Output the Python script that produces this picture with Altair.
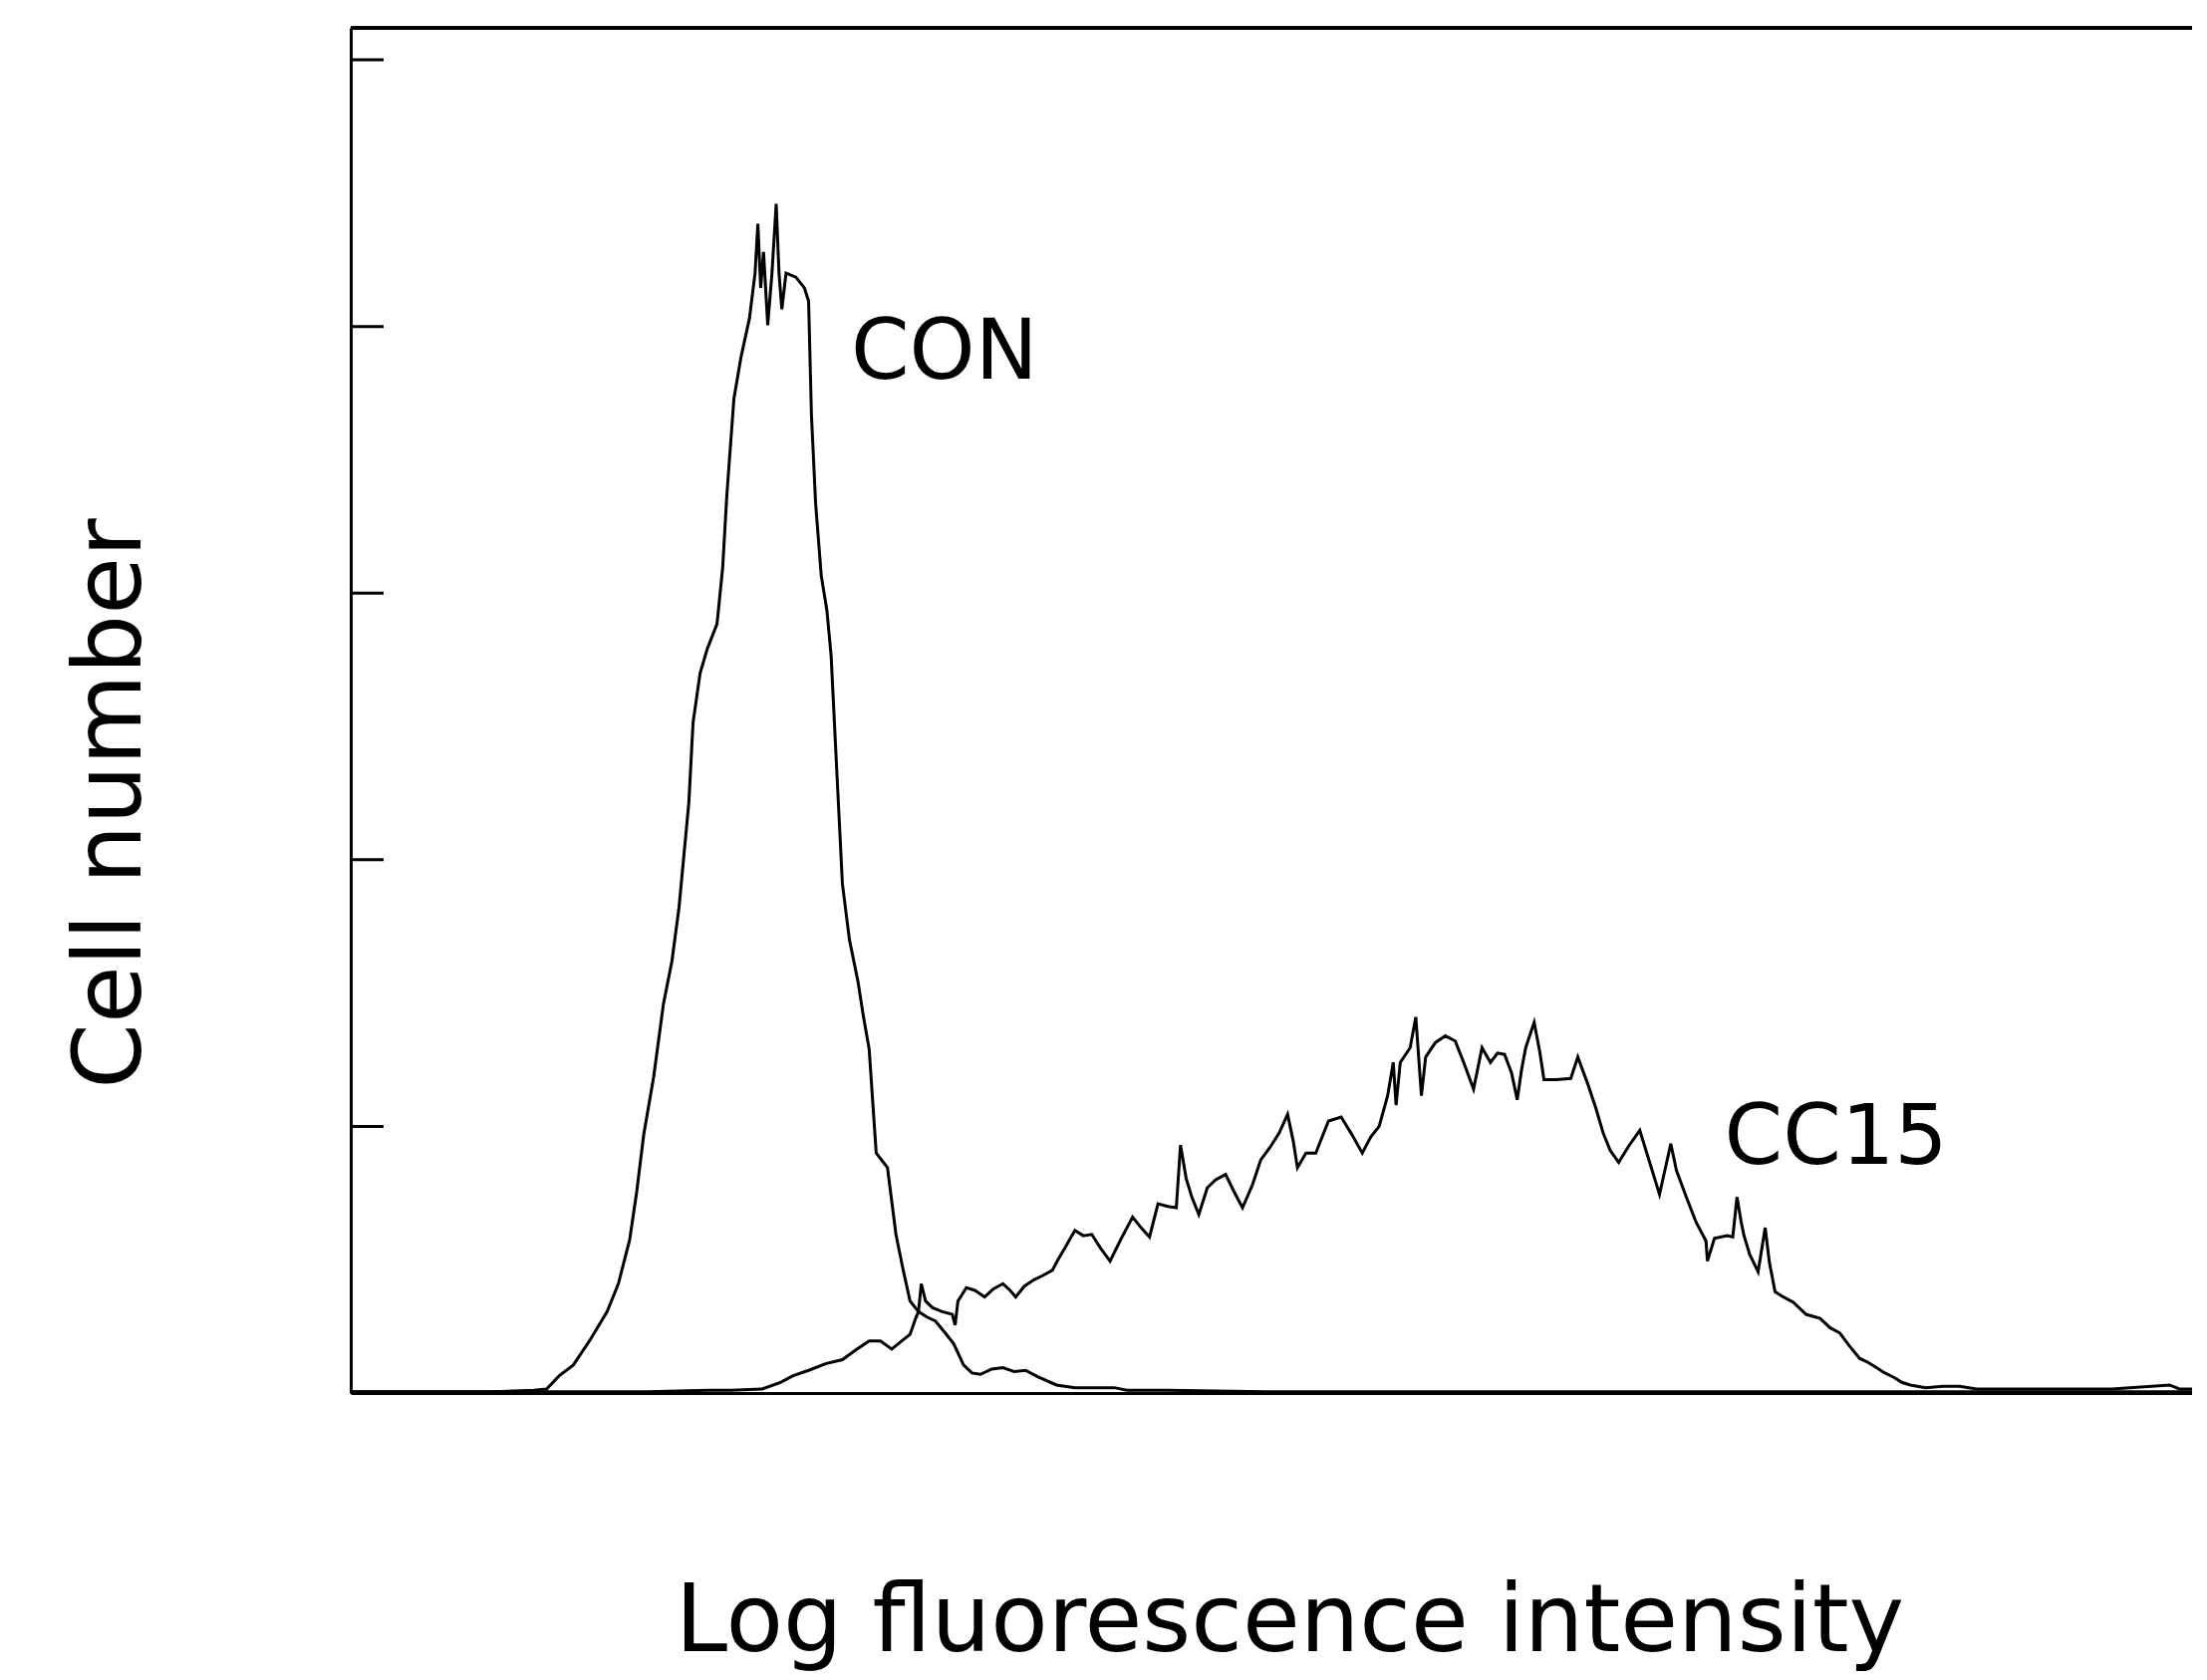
import altair as alt
import pandas as pd

# ---- data (channel = position along log-fluorescence axis, count = cell number) ----
con_channel = [0, 50, 100, 130, 139, 148, 158, 170, 182, 190, 198, 203, 208, 215, 222, 228, 233, 240,
               243, 248, 253, 260, 264, 267, 272, 277, 283, 287, 289, 291, 293, 296, 299, 302, 304, 306,
               309, 316, 322, 325, 327, 330, 334, 338, 341, 345, 349, 354, 360, 364, 368, 373, 381, 387,
               392, 397, 403, 409, 415, 422, 428, 435, 441, 447, 455, 463, 471, 479, 488, 501, 514, 530,
               542, 551, 580, 650, 750, 850, 950, 1050, 1150, 1250, 1307]
con_count = [0.1, 0.1, 0.1, 0.2, 0.3, 1.3, 2.1, 4.0, 6.1, 8.2, 11.5, 15.1, 19.4, 23.7, 29.2, 32.4, 36.4, 44.3,
             50.3, 54.0, 55.8, 57.7, 61.9, 67.4, 74.6, 77.7, 80.6, 84.0, 87.7, 82.9, 85.6, 80.1, 84.0, 89.2, 84.0, 81.3,
             84.0, 83.7, 82.9, 81.9, 73.4, 66.7, 61.3, 58.7, 55.3, 46.7, 38.2, 34.0, 30.9, 28.2, 25.8, 18.0, 16.9, 11.9,
             9.3, 6.9, 6.1, 5.7, 5.4, 4.5, 3.7, 2.1, 1.5, 1.4, 1.8, 1.9, 1.6, 1.7, 1.2, 0.6, 0.4, 0.4,
             0.4, 0.2, 0.2, 0.1, 0.1, 0.1, 0.1, 0.1, 0.1, 0.1, 0.1]

cc15_channel = [0, 150, 210, 254, 270, 292, 305, 314, 325, 337, 349, 358, 368, 376, 384, 391, 397, 401, 403,
                405, 408, 413, 420, 427, 429, 431, 437, 443, 450, 456, 463, 468, 472, 478, 485, 491, 498, 502,
                507, 514, 520, 526, 532, 539, 547, 555, 561, 567, 573, 580, 586, 589, 593, 597, 602, 608, 614,
                621, 627, 633, 640, 646, 653, 659, 665, 669, 672, 678, 685, 694, 703, 710, 718, 724, 730, 736,
                740, 742, 745, 752, 756, 760, 763, 770, 777, 784, 790, 797, 803, 809, 814, 819, 824, 828, 831,
                834, 840, 844, 847, 856, 866, 871, 878, 884, 889, 894, 900, 907, 915, 922, 929, 933, 937, 941,
                948, 955, 962, 963, 968, 977, 981, 984, 987, 989, 993, 999, 1004, 1007, 1011, 1017, 1024, 1033,
                1043, 1050, 1057, 1064, 1071, 1077, 1083, 1089, 1095, 1101, 1107, 1118, 1130, 1142, 1154, 1166,
                1200, 1250, 1291, 1298, 1307]
cc15_count = [0.1, 0.1, 0.1, 0.2, 0.2, 0.3, 0.8, 1.3, 1.7, 2.2, 2.5, 3.2, 3.9, 3.9, 3.3, 3.9, 4.4, 5.6, 6.1,
              8.2, 6.9, 6.4, 6.1, 5.9, 5.1, 6.9, 7.9, 7.7, 7.2, 7.8, 8.2, 7.7, 7.2, 8.0, 8.5, 8.8, 9.2, 10.0,
              10.9, 12.2, 11.8, 11.9, 10.9, 9.9, 11.6, 13.2, 12.4, 11.7, 14.2, 14.0, 13.9, 18.6, 16.1, 14.7, 13.4, 15.4, 16.0,
              16.4, 15.1, 13.9, 15.6, 17.5, 18.5, 19.5, 20.9, 18.9, 16.9, 18.0, 18.0, 20.4, 20.7, 19.5, 18.0, 19.2, 20.0, 22.3,
              24.8, 21.6, 24.8, 25.9, 28.2, 22.3, 25.2, 26.3, 26.8, 26.4, 24.8, 22.8, 25.9, 24.8, 25.5, 25.4, 24.0, 22.0, 24.2,
              25.9, 27.8, 25.6, 23.5, 23.5, 23.6, 25.2, 23.2, 21.3, 19.5, 18.2, 17.3, 18.5, 19.7, 17.3, 14.9, 16.8, 18.7, 16.7,
              14.7, 12.8, 11.4, 9.9, 11.6, 11.8, 11.7, 14.7, 12.8, 11.8, 10.4, 9.1, 12.4, 9.8, 7.6, 7.2, 6.8, 5.9,
              5.6, 4.9, 4.5, 3.5, 2.6, 2.3, 1.9, 1.5, 1.2, 0.8, 0.6, 0.4, 0.5, 0.5, 0.3, 0.3,
              0.3, 0.3, 0.6, 0.3, 0.3]

label_text = ["CON", "CC15"]
label_channel = [355, 975]
label_count = [76.1, 17.2]

tick_values = [20, 40, 60, 80, 100]

X_MAX = 1307
Y_MAX = 102.4
W = 1848
H = 1370
FONT = "DejaVu Sans"

df = pd.concat([
    pd.DataFrame({"channel": con_channel, "count": con_count, "sample": "CON"}),
    pd.DataFrame({"channel": cc15_channel, "count": cc15_count, "sample": "CC15"}),
])
labels = pd.DataFrame({"label": label_text, "channel": label_channel, "count": label_count})
ticks = pd.DataFrame({"tick": tick_values})

xscale = alt.Scale(domain=[0, X_MAX], nice=False, zero=False)
yscale = alt.Scale(domain=[0, Y_MAX], nice=False, zero=False)

xaxis = alt.Axis(title="Log fluorescence intensity", labels=False, ticks=False, grid=False,
                 domain=True, domainColor="black", domainWidth=3,
                 titleFont=FONT, titleFontSize=94, titleFontWeight="normal", titleColor="black",
                 titleX=942, titleY=258, titleAlign="center", titleBaseline="alphabetic")
yaxis = alt.Axis(title="Cell number", labels=False, ticks=False, grid=False,
                 domain=True, domainColor="black", domainWidth=3,
                 titleFont=FONT, titleFontSize=94, titleFontWeight="normal", titleColor="black",
                 titleX=-212, titleY=778, titleAngle=270, titleAlign="center", titleBaseline="alphabetic")

lines = alt.Chart(df).mark_line(color="black", strokeWidth=3, interpolate="linear").encode(
    x=alt.X("channel:Q", scale=xscale, axis=xaxis),
    y=alt.Y("count:Q", scale=yscale, axis=yaxis),
    detail="sample:N",
)

tick_marks = alt.Chart(ticks).mark_rule(color="black", strokeWidth=3).encode(
    y=alt.Y("tick:Q", scale=yscale),
    x=alt.value(0),
    x2=alt.value(33),
)

top_line = alt.Chart(ticks).mark_rule(color="black", strokeWidth=3).encode(
    x=alt.value(0),
    x2=alt.value(W),
    y=alt.value(0),
)

text = alt.Chart(labels).mark_text(font=FONT, fontSize=84, align="left", baseline="alphabetic",
                                   color="black").encode(
    x=alt.X("channel:Q", scale=xscale),
    y=alt.Y("count:Q", scale=yscale),
    text="label:N",
)

chart = alt.layer(lines, tick_marks, top_line, text).properties(
    width=W, height=H,
    autosize=alt.AutoSizeParams(type="none"),
    padding={"left": 344, "top": 20, "right": 0, "bottom": 280},
    background="white",
).configure_view(stroke=None)

chart.save("out.html", embed_options={"renderer": "svg", "actions": False})
